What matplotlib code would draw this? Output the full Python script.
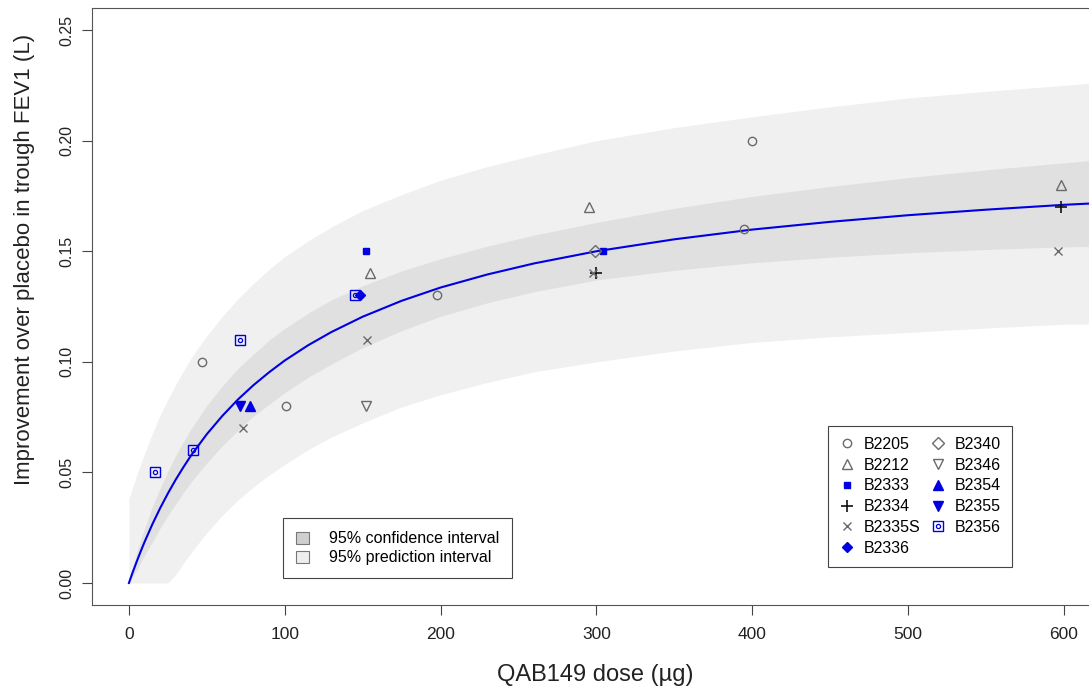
import matplotlib
matplotlib.use('Agg')
import matplotlib.pyplot as plt
import numpy as np
from matplotlib.lines import Line2D
from matplotlib.patches import Patch

plt.rcParams['font.family'] = ['Liberation Sans', 'DejaVu Sans']

# fitted curve and interval half-widths
dose_grid = [0, 2.5, 5, 7.5, 10, 15, 20, 25, 30, 35, 40, 50, 60, 70, 80, 90,
             100, 115, 130, 150, 175, 200, 230, 260, 300, 350, 400, 450, 500,
             550, 600, 620]
fit = [0.0, 0.0050, 0.0097, 0.0142, 0.0185, 0.0265, 0.0338, 0.0405, 0.0467,
       0.0524, 0.0578, 0.0673, 0.0756, 0.0830, 0.0895, 0.0953, 0.1006, 0.1075,
       0.1135, 0.1204, 0.1276, 0.1336, 0.1395, 0.1445, 0.1500, 0.1554, 0.1598,
       0.1633, 0.1663, 0.1688, 0.1710, 0.1717]
ci_half = [0.0, 0.002, 0.004, 0.005, 0.006, 0.008, 0.009, 0.010, 0.011, 0.0115,
           0.012, 0.013, 0.0135, 0.014, 0.014, 0.0145, 0.0145, 0.0145, 0.0145,
           0.014, 0.0135, 0.013, 0.0128, 0.0128, 0.013, 0.014, 0.015, 0.016,
           0.017, 0.018, 0.019, 0.0195]
pi_half = [0.038, 0.0385, 0.039, 0.0395, 0.040, 0.041, 0.042, 0.0425, 0.043,
           0.0435, 0.044, 0.0445, 0.045, 0.0455, 0.046, 0.0465, 0.047, 0.0472,
           0.0475, 0.048, 0.048, 0.0485, 0.0488, 0.049, 0.050, 0.0505, 0.051,
           0.052, 0.053, 0.0535, 0.054, 0.0545]

# observed study means
studies = ['B2205', 'B2212', 'B2333', 'B2334', 'B2335S', 'B2336',
           'B2340', 'B2346', 'B2354', 'B2355', 'B2356']
study_dose = {
    'B2205': [47, 101, 198, 395, 400],
    'B2212': [155, 295, 598],
    'B2333': [152, 304],
    'B2334': [300, 598],
    'B2335S': [73, 153, 298, 596],
    'B2336': [148],
    'B2340': [299],
    'B2346': [152],
    'B2354': [78],
    'B2355': [71],
    'B2356': [17, 41, 71, 145],
}
study_fev1 = {
    'B2205': [0.10, 0.08, 0.13, 0.16, 0.20],
    'B2212': [0.14, 0.17, 0.18],
    'B2333': [0.15, 0.15],
    'B2334': [0.14, 0.17],
    'B2335S': [0.07, 0.11, 0.14, 0.15],
    'B2336': [0.13],
    'B2340': [0.15],
    'B2346': [0.08],
    'B2354': [0.08],
    'B2355': [0.08],
    'B2356': [0.05, 0.06, 0.11, 0.13],
}

gray = '#6a6a6a'
blue = '#0000e0'
styles = {
    'B2205': dict(marker='o', mfc='none', mec=gray, ms=6),
    'B2212': dict(marker='^', mfc='none', mec=gray, ms=7),
    'B2333': dict(marker='s', mfc=blue, mec=blue, ms=5),
    'B2334': dict(marker='+', mfc='none', mec='#111111', ms=9, mew=1.2),
    'B2335S': dict(marker='x', mfc='none', mec=gray, ms=6),
    'B2336': dict(marker='D', mfc=blue, mec=blue, ms=5),
    'B2340': dict(marker='D', mfc='none', mec=gray, ms=6),
    'B2346': dict(marker='v', mfc='none', mec=gray, ms=7),
    'B2354': dict(marker='^', mfc=blue, mec=blue, ms=7),
    'B2355': dict(marker='v', mfc=blue, mec=blue, ms=7),
    'B2356': dict(marker='s', mfc='none', mec=blue, ms=7),
}

x = np.array(dose_grid, dtype=float)
y = np.array(fit)
ci = np.array(ci_half)
pi = np.array(pi_half)

fig = plt.figure(figsize=(10.89, 6.90), dpi=100)
ax = fig.add_axes([92 / 1089, 85 / 690, 1 - 92 / 1089, 597 / 690])

ax.fill_between(x, np.clip(y - pi, 0, None), y + pi, color='#f0f0f0', lw=0)
ax.fill_between(x, np.clip(y - ci, 0, None), y + ci, color='#e0e0e0', lw=0)
ax.plot(x, y, color=blue, lw=1.5)

handles = []
for s in studies:
    st = dict(styles[s])
    mew = st.pop('mew', 1.0)
    ax.plot(study_dose[s], study_fev1[s], ls='none', mew=mew, **st)
    h = Line2D([], [], ls='none', mew=mew, **st)
    if s == 'B2356':
        ax.plot(study_dose[s], study_fev1[s], ls='none', marker='o', mfc='none',
                mec=blue, ms=3, mew=0.9)
        h = (h, Line2D([], [], ls='none', marker='o', mfc='none', mec=blue, ms=3, mew=0.9))
    handles.append(h)

ax.set_xlim(-23.7, 616.2)
ax.set_ylim(-0.00995, 0.26)
ax.set_xticks([0, 100, 200, 300, 400, 500, 600])
ax.set_yticks([0, 0.05, 0.10, 0.15, 0.20, 0.25])
ax.set_yticklabels(['0.00', '0.05', '0.10', '0.15', '0.20', '0.25'],
                   rotation=90, va='center')
ax.tick_params(axis='both', direction='out', length=7, width=0.8, color='#444444',
               labelcolor='#222222')
ax.tick_params(axis='x', pad=9, labelsize=12.5)
ax.tick_params(axis='y', pad=6, labelsize=11.5)
ax.spines['right'].set_visible(False)
for sp in ['left', 'top', 'bottom']:
    ax.spines[sp].set_color('#555555')
    ax.spines[sp].set_linewidth(0.8)

ax.set_xlabel('QAB149 dose (\u00b5g)', fontsize=17, color='#222222')
ax.set_ylabel('Improvement over placebo in trough FEV1 (L)', fontsize=16,
              color='#222222')
ax.xaxis.set_label_coords(0.5045, -0.098)
ax.yaxis.set_label_coords(-0.057, 0.578)

band_handles = [Patch(facecolor='#cfcfcf', edgecolor='#777777', lw=0.8),
                Patch(facecolor='#eeeeee', edgecolor='#777777', lw=0.8)]
leg1 = ax.legend(band_handles, ['95% confidence interval', '95% prediction interval'],
                 loc='lower left', bbox_to_anchor=(0.1916, 0.0452), borderaxespad=0,
                 fontsize=11.5, fancybox=False, edgecolor='#444444', framealpha=1,
                 handlelength=0.8, handleheight=0.8, handletextpad=1.3,
                 borderpad=0.8, labelspacing=0.25)
leg1.get_frame().set_linewidth(0.8)
ax.add_artist(leg1)

leg2 = ax.legend(handles, studies, ncol=2, loc='lower left',
                 bbox_to_anchor=(0.738, 0.064), borderaxespad=0, fontsize=11.5,
                 fancybox=False, edgecolor='#444444', framealpha=1,
                 handlelength=1.0, handletextpad=0.55, columnspacing=0.6,
                 borderpad=0.7, labelspacing=0.36)
leg2.get_frame().set_linewidth(0.8)

fig.savefig('out.png', dpi=100)
